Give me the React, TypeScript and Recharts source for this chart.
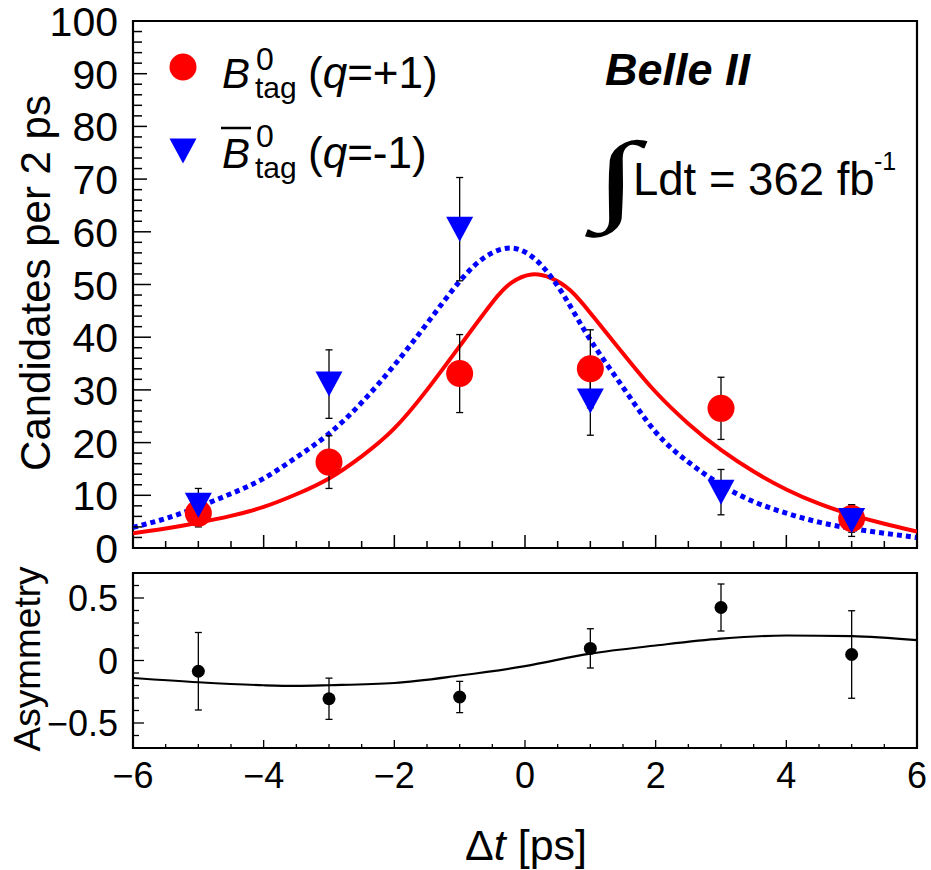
import React from "react";
import { ComposedChart, Line, Scatter, ErrorBar, XAxis, YAxis, ReferenceArea } from "recharts";

// binned data, Δt bin centres in ps
const tBins = [-5, -3, -1, 1, 3, 5];
const b0Counts = [6.6, 16.3, 33.1, 34.0, 26.5, 5.6];
const b0Errors = [2.6, 5.0, 7.4, 7.4, 5.9, 2.6];
const b0barCounts = [8.1, 31.1, 60.5, 27.9, 10.6, 5.2];
const b0barErrors = [3.2, 6.5, 9.8, 6.5, 4.3, 3.0];
const asymValues = [-0.086, -0.306, -0.292, 0.097, 0.424, 0.048];
const asymErrors = [0.31, 0.165, 0.125, 0.157, 0.188, 0.35];

// fit projections
const b0FitT = [-6, -5.5, -5, -4.5, -4, -3.5, -3, -2.5, -2, -1.5, -1, -0.5, -0.2, 0.1, 0.4, 0.7, 1, 1.3, 1.6, 2, 2.5, 3, 3.5, 4, 4.5, 5, 5.5, 6];
const b0Fit = [2.8, 3.7, 4.8, 6.1, 7.8, 10.2, 13.2, 17.4, 22.7, 30.0, 38.3, 46.6, 50.4, 51.9, 51.2, 48.8, 44.6, 40.0, 35.4, 29.6, 23.6, 18.6, 14.5, 11.1, 8.4, 6.3, 4.6, 3.1];
const b0barFitT = [-6, -5.5, -5, -4.5, -4, -3.5, -3, -2.5, -2, -1.5, -1, -0.6, -0.2, 0.2, 0.6, 1, 1.5, 2, 2.5, 3, 3.5, 4, 4.5, 5, 5.5, 6];
const b0barFit = [3.9, 5.6, 7.8, 10.3, 13.2, 17.2, 21.7, 27.6, 34.7, 42.6, 50.6, 55.3, 56.9, 54.3, 47.8, 39.5, 30.5, 22.0, 16.3, 12.0, 8.8, 6.6, 4.9, 3.7, 2.8, 2.0];
const asymFitT = [-6, -5, -4, -3.5, -3, -2, -1, 0, 1, 2, 3, 4, 5, 6];
const asymFit = [-0.14, -0.174, -0.198, -0.203, -0.198, -0.18, -0.12, -0.045, 0.055, 0.12, 0.175, 0.2, 0.195, 0.163];

const xLabels = [-6, -4, -2, 0, 2, 4, 6];
const topYLabels = [0, 10, 20, 30, 40, 50, 60, 70, 80, 90, 100];
const botYLabels = [-0.5, 0, 0.5];

const xTicks = Array.from({ length: 25 }, (_, i) => -6 + i * 0.5);
const topYTicks = Array.from({ length: 51 }, (_, i) => i * 2);
const botYTicks = Array.from({ length: 13 }, (_, i) => Math.round((-0.6 + i * 0.1) * 10) / 10);

const FONT = '"Liberation Sans", Arial, Helvetica, sans-serif';
const W = 931;
const PLOT_L = 133;
const TOP_H = 600;
const TOP_B = 548;
const BOT_TOP = 560;
const BOT_H = 310;
const BOT_T = 13; // local to lower chart
const BOT_B = 188;

const b0Points = tBins.map((t, i) => ({ t, y: b0Counts[i], err: b0Errors[i] }));
const b0barPoints = tBins.map((t, i) => ({ t, y: b0barCounts[i], err: b0barErrors[i] }));
const asymPoints = tBins.map((t, i) => ({ t, y: asymValues[i], err: asymErrors[i] }));
const b0Line = b0FitT.map((t, i) => ({ t, y: b0Fit[i] }));
const b0barLine = b0barFitT.map((t, i) => ({ t, y: b0barFit[i] }));
const asymLine = asymFitT.map((t, i) => ({ t, y: asymFit[i] }));

const isMultiple = (v: number, step: number) => Math.abs(v / step - Math.round(v / step)) < 1e-6;

function TopYTick(props: any) {
  const { y, payload } = props;
  const v = payload.value;
  const major = isMultiple(v, 10);
  const len = major ? (v <= 60 ? 18 : 14) : 9;
  return (
    <g>
      <line x1={PLOT_L} x2={PLOT_L + len} y1={y} y2={y} stroke="#000" strokeWidth={1.5} />
      {major && topYLabels.includes(v) && (
        <text x={118} y={y + 15} textAnchor="end" fontSize={41} fontFamily={FONT} fill="#000">
          {v}
        </text>
      )}
    </g>
  );
}

function TopXTick(props: any) {
  const { x, payload } = props;
  const len = isMultiple(payload.value, 2) ? 13 : 7;
  return <line x1={x} x2={x} y1={TOP_B} y2={TOP_B - len} stroke="#000" strokeWidth={1.5} />;
}

function BotYTick(props: any) {
  const { y, payload } = props;
  const v = payload.value;
  const major = isMultiple(v, 0.5);
  return (
    <g>
      <line x1={PLOT_L} x2={PLOT_L + (major ? 11 : 6)} y1={y} y2={y} stroke="#000" strokeWidth={1.3} />
      {major && botYLabels.includes(v) && (
        <text x={118} y={y + 13} textAnchor="end" fontSize={36} fontFamily={FONT} fill="#000">
          {v < 0 ? `\u2212${Math.abs(v)}` : v}
        </text>
      )}
    </g>
  );
}

function BotXTick(props: any) {
  const { x, payload } = props;
  const v = payload.value;
  const major = isMultiple(v, 2);
  return (
    <g>
      <line x1={x} x2={x} y1={BOT_B} y2={BOT_B - (major ? 8 : 4)} stroke="#000" strokeWidth={1.3} />
      {major && xLabels.includes(v) && (
        <text x={x} y={228} textAnchor="middle" fontSize={36} fontFamily={FONT} fill="#000">
          {v < 0 ? `\u2212${Math.abs(v)}` : v}
        </text>
      )}
    </g>
  );
}

const redDot = (p: any) => <circle cx={p.cx} cy={p.cy} r={13.5} fill="#ff0000" />;
const blueTri = (p: any) => (
  <polygon
    points={`${p.cx - 13.5},${p.cy - 12.5} ${p.cx + 13.5},${p.cy - 12.5} ${p.cx},${p.cy + 12.5}`}
    fill="#0000ff"
  />
);
const blackDot = (p: any) => <circle cx={p.cx} cy={p.cy} r={6.5} fill="#000" />;

export default function App() {
  return (
    <div style={{ position: "absolute", left: 0, top: 0, width: W, height: 870, background: "#fff", overflow: "hidden" }}>
      <div style={{ position: "absolute", left: 0, top: 0 }}>
        <ComposedChart width={W} height={TOP_H} margin={{ top: 21, right: 14, bottom: 0, left: 0 }}>
          <XAxis
            type="number"
            dataKey="t"
            domain={[-6, 6]}
            ticks={xTicks}
            interval={0}
            tick={TopXTick}
            tickLine={false}
            axisLine={false}
            height={TOP_H - TOP_B}
            allowDataOverflow
          />
          <YAxis
            type="number"
            domain={[0, 100]}
            ticks={topYTicks}
            interval={0}
            tick={TopYTick}
            tickLine={false}
            axisLine={false}
            width={PLOT_L}
            allowDataOverflow
          />
          <Line data={b0Line} dataKey="y" type="natural" stroke="#ff0000" strokeWidth={4} dot={false} isAnimationActive={false} />
          <Line
            data={b0barLine}
            dataKey="y"
            type="natural"
            stroke="#0000ff"
            strokeWidth={5}
            strokeDasharray="5 4"
            dot={false}
            isAnimationActive={false}
          />
          <Scatter data={b0Points} dataKey="y" shape={redDot} isAnimationActive={false}>
            <ErrorBar dataKey="err" direction="y" width={3.5} stroke="#000" strokeWidth={1.3} />
          </Scatter>
          <Scatter data={b0barPoints} dataKey="y" shape={blueTri} isAnimationActive={false}>
            <ErrorBar dataKey="err" direction="y" width={3.5} stroke="#000" strokeWidth={1.3} />
          </Scatter>
          <ReferenceArea x1={-6} x2={6} y1={0} y2={100} fill="none" stroke="#000" strokeWidth={2.2} ifOverflow="visible" />
        </ComposedChart>
      </div>

      <div style={{ position: "absolute", left: 0, top: BOT_TOP }}>
        <ComposedChart width={W} height={BOT_H} margin={{ top: BOT_T, right: 14, bottom: 0, left: 0 }}>
          <XAxis
            type="number"
            dataKey="t"
            domain={[-6, 6]}
            ticks={xTicks}
            interval={0}
            tick={BotXTick}
            tickLine={false}
            axisLine={false}
            height={BOT_H - BOT_B}
            allowDataOverflow
          />
          <YAxis
            type="number"
            domain={[-0.7, 0.7]}
            ticks={botYTicks}
            interval={0}
            tick={BotYTick}
            tickLine={false}
            axisLine={false}
            width={PLOT_L}
            allowDataOverflow
          />
          <Line data={asymLine} dataKey="y" type="monotone" stroke="#000" strokeWidth={2.2} dot={false} isAnimationActive={false} />
          <Scatter data={asymPoints} dataKey="y" shape={blackDot} isAnimationActive={false}>
            <ErrorBar dataKey="err" direction="y" width={3.5} stroke="#000" strokeWidth={1.3} />
          </Scatter>
          <ReferenceArea x1={-6} x2={6} y1={-0.7} y2={0.7} fill="none" stroke="#000" strokeWidth={2.2} ifOverflow="visible" />
        </ComposedChart>
      </div>

      <svg
        width={W}
        height={870}
        style={{ position: "absolute", left: 0, top: 0, pointerEvents: "none" }}
        fontFamily={FONT}
      >
        {/* axis titles */}
        <text transform="translate(50,283) rotate(-90)" textAnchor="middle" fontSize={42} fill="#000">
          Candidates per 2 ps
        </text>
        <text transform="translate(40,659) rotate(-90)" textAnchor="middle" fontSize={37} fill="#000">
          Asymmetry
        </text>
        <text x={587} y={860} textAnchor="end" fontSize={43} fill="#000">
          Δ<tspan fontStyle="italic">t</tspan> [ps]
        </text>

        {/* legend */}
        <circle cx={183} cy={67} r={13.5} fill="#ff0000" />
        <text x={222} y={88} fontSize={42} fill="#000">
          <tspan fontStyle="italic">B</tspan>
        </text>
        <text x={256} y={70} fontSize={32} fill="#000">0</text>
        <text x={255} y={98} fontSize={30} fill="#000">tag</text>
        <text x={308} y={88} fontSize={44} fill="#000">
          (<tspan fontStyle="italic">q</tspan>=+1)
        </text>

        <polygon points="169.5,138.5 196.5,138.5 183,163.5" fill="#0000ff" />
        <line x1={221} x2={251} y1={128} y2={128} stroke="#000" strokeWidth={2.5} />
        <text x={222} y={168} fontSize={42} fill="#000">
          <tspan fontStyle="italic">B</tspan>
        </text>
        <text x={256} y={147} fontSize={32} fill="#000">0</text>
        <text x={255} y={178} fontSize={30} fill="#000">tag</text>
        <text x={308} y={168} fontSize={44} fill="#000">
          (<tspan fontStyle="italic">q</tspan>=-1)
        </text>

        {/* experiment label */}
        <text x={605} y={85} fontSize={45} fontWeight="bold" fontStyle="italic" fill="#000">
          Belle II
        </text>
        <text
          transform="translate(594,211) scale(1.65,1)"
          fontSize={100}
          fontFamily='"Liberation Serif", "DejaVu Serif", serif'
          fontWeight="bold"
          fill="#000"
        >
          ∫
        </text>
        <text x={633} y={195} fontSize={45.5} fill="#000">
          Ldt = 362 fb
        </text>
        <text x={874} y={170} fontSize={25} fill="#000">-1</text>
      </svg>
    </div>
  );
}
